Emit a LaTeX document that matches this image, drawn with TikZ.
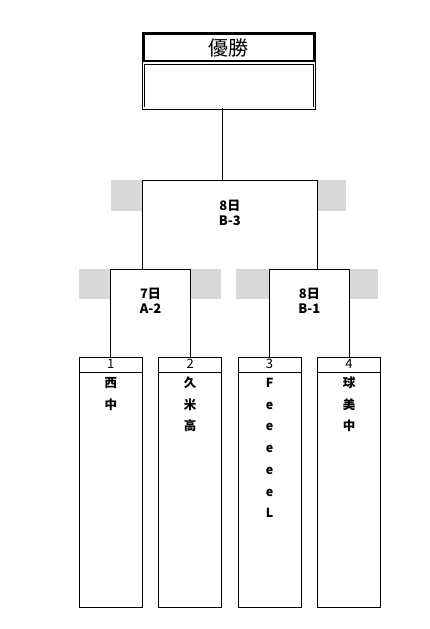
\documentclass[tikz,border=0pt]{standalone}
\usepackage{fontspec}
\setmainfont{Noto Sans CJK JP}
\usetikzlibrary{positioning,calc}
\definecolor{bandgray}{HTML}{D9D9D9}

\tikzset{
  rule/.style={draw,line width=0.9pt},
  slotbox/.style={rule,minimum width=63pt,minimum height=250pt,anchor=north,inner sep=0pt},
  seed/.style={anchor=base,inner sep=0pt,font=\fontsize{13}{13}\selectfont},
  entry/.style={anchor=base,inner sep=0pt,font=\bfseries\fontsize{12.5}{13}\selectfont},
  matchtxt/.style={align=center,inner sep=0pt,font=\bfseries\fontsize{13}{15}\selectfont},
  band/.style={fill=bandgray},
  champhead/.style={draw,line width=2.5pt,minimum width=171pt,minimum height=28pt,inner sep=0pt,font=\fontsize{20}{20}\selectfont},
  champslot/.style={draw,line width=0.7pt,double,double distance=1.5pt,minimum width=171pt,minimum height=45pt,inner sep=0pt},
}

\begin{document}
\begin{tikzpicture}[x=1pt,y=-1pt,node distance=15.5pt]
  \useasboundingbox (0,0) rectangle (430,629);

  % entrants
  \node[slotbox] (s1) at (110.8,357) {};
  \node[slotbox,right=of s1] (s2) {};
  \node[slotbox,right=of s2] (s3) {};
  \node[slotbox,right=of s3] (s4) {};
  \foreach \i in {1,...,4} {
    \draw[rule] ([yshift=-15.5pt]s\i.north west) -- ([yshift=-15.5pt]s\i.north east);
    \node[seed] (n\i) at ([yshift=-11.5pt]s\i.north) {\i};
  }
  \foreach \c [count=\k] in {西,中}
    \node[entry] (e1r\k) at ([yshift={-(8.8+21.7*\k)*1pt}]s1.north) {\c};
  \foreach \c [count=\k] in {久,米,高}
    \node[entry] (e2r\k) at ([yshift={-(8.8+21.7*\k)*1pt}]s2.north) {\c};
  \foreach \c [count=\k] in {F,e,e,e,e,e,L}
    \node[entry] (e3r\k) at ([yshift={-(8.8+21.7*\k)*1pt}]s3.north) {\c};
  \foreach \c [count=\k] in {球,美,中}
    \node[entry] (e4r\k) at ([yshift={-(8.8+21.7*\k)*1pt}]s4.north) {\c};

  % bracket corners
  \coordinate (a2l) at ([yshift=88pt]s1.north);
  \coordinate (a2r) at ([yshift=88pt]s2.north);
  \coordinate (b1l) at ([yshift=88pt]s3.north);
  \coordinate (b1r) at ([yshift=88pt]s4.north);
  \coordinate (b3l) at ([yshift=177pt]s1.north east);
  \coordinate (b3r) at ([yshift=177pt]s4.north west);

  % grey bands behind the matches
  \fill[band] (110.8,180) rectangle (346.3,211);
  \fill[band] (79.3,269) rectangle (220.8,299);
  \fill[band] (236.3,269) rectangle (377.8,299);
  \fill[white] (b3l) rectangle (b3r |- a2l);
  \fill[white] (a2l) rectangle (s2.north);
  \fill[white] (b1l) rectangle (s4.north);

  \draw[rule] (s1.north) -- (a2l) -- (a2r) -- (s2.north);
  \draw[rule] (s3.north) -- (b1l) -- (b1r) -- (s4.north);
  \draw[rule] (b3l |- a2l) -- (b3l) -- (b3r) -- (b3r |- a2l);

  \node[matchtxt] (m1) at ([yshift=-32pt]$(a2l)!0.5!(a2r)$) {7日\\A-2};
  \node[matchtxt] (m2) at ([yshift=-32pt]$(b1l)!0.5!(b1r)$) {8日\\B-1};
  \node[matchtxt] (m3) at ([yshift=-32.5pt]$(b3l)!0.5!(b3r)$) {8日\\B-3};

  % champion
  \node[champhead] (champ) at (228.8,47.5) {優勝};
  \node[champslot,below=0pt of champ] (winner) {};
  \draw[rule] (winner.south -| s2.north east) -- (s2.north east |- b3l);
\end{tikzpicture}
\end{document}
